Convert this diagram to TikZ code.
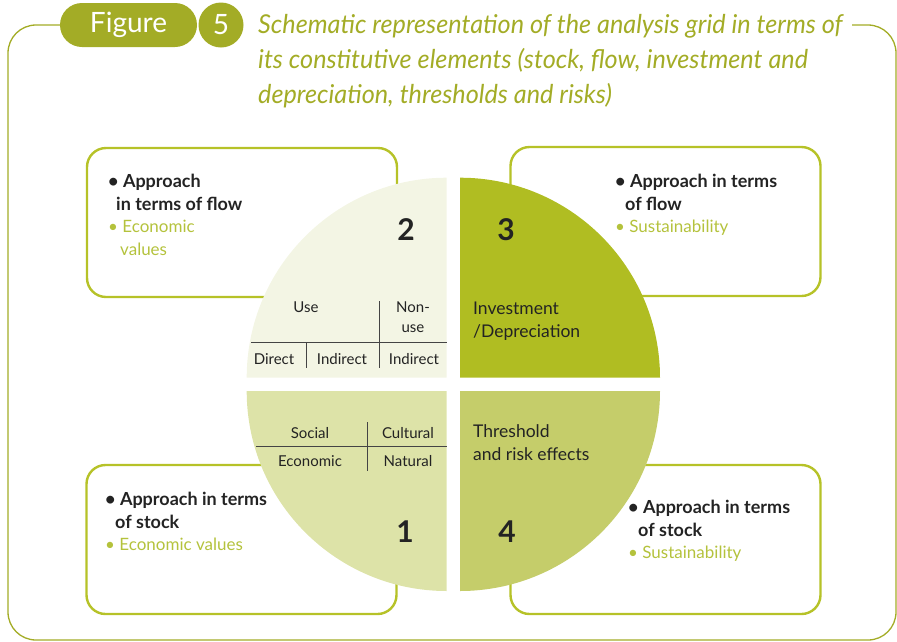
\documentclass[tikz,border=0pt]{standalone}
\usepackage{fontspec}
\setmainfont{Lato}
\newfontfamily\capfont[FakeStretch=0.97]{Lato}
\usetikzlibrary{positioning}

\definecolor{figolive}{RGB}{163,172,38}
\definecolor{boxgreen}{RGB}{182,194,40}
\definecolor{lightgr}{RGB}{180,194,60}
\definecolor{qone}{RGB}{221,227,168}
\definecolor{qtwo}{RGB}{243,245,228}
\definecolor{qthree}{RGB}{176,189,34}
\definecolor{qfour}{RGB}{197,205,106}
\definecolor{darktxt}{RGB}{35,35,35}

\newcommand{\boldln}[1]{{\bfseries\fontsize{18}{22.5}\selectfont #1}}

\begin{document}
\begin{tikzpicture}[x=1pt, y=-1pt,
		frameline/.style={draw=figolive, line width=1.3pt, rounded corners=28pt},
		tagpill/.style={fill=figolive, text=white, rounded corners=22pt, minimum width=137pt, minimum height=44pt, font=\fontsize{28}{30}\selectfont},
		tagdisc/.style={circle, fill=figolive, text=white, minimum size=45pt, inner sep=0pt, font=\fontsize{28}{30}\selectfont},
		captxt/.style={anchor=base west, inner sep=0pt, text=figolive, font=\capfont\itshape\fontsize{26}{30}\selectfont},
		infobox/.style={draw=boxgreen, line width=2.4pt, rounded corners=19pt, minimum width=310pt, minimum height=149pt},
		boxtxt/.style={anchor=north west, inner sep=0pt, align=left, text=darktxt, font=\fontsize{17}{22.5}\selectfont},
		qtxt/.style={anchor=north west, inner sep=0pt, align=left, text=darktxt, font=\fontsize{17.5}{23}\selectfont},
		numlbl/.style={anchor=base, inner sep=0pt, text=darktxt, font=\bfseries\fontsize{30}{32}\selectfont},
		celltxt/.style={anchor=base, inner sep=0pt, text=darktxt, font=\fontsize{15}{17}\selectfont},
		gridline/.style={draw=darktxt!85, line width=0.8pt}]
		\useasboundingbox (0,0) rectangle (897,641);
		
		% Outer frame and title
		\begin{scope}
			\clip (0,0) rectangle (897,641);
			\draw[frameline] (70,25) -- (8,25) -- (8,640) -- (896,640) -- (896,25) -- (852,25);
		\end{scope}
		\node[tagpill] (figtag) at (128.5,25) {Figure};
		\node[tagdisc] (fignum) at (221,25) {5};
		\node[captxt] (capa) at (258,33) {Schematic representation of the analysis grid in terms of};
		\node[captxt] (capb) at (258,68) {its constitutive elements (stock, flow, investment and};
		\node[captxt] (capc) at (258,103) {depreciation, thresholds and risks)};
		
		% Approach boxes
		\node[infobox] (flowecon) at (242,222.5) {};
		\node[infobox] (flowsust) at (665.5,221.5) {};
		\node[infobox] (stockecon) at (241.5,539.5) {};
		\node[infobox] (stocksust) at (665.5,539.5) {};
		
		% Quarter discs
		\fill[qtwo] (446.7,377.7) -- (246.7,377.7) arc[start angle=180, end angle=270, radius=200] -- cycle;
		\fill[qthree] (460,377.7) -- (460,177.7) arc[start angle=270, end angle=360, radius=200] -- cycle;
		\fill[qfour] (460,391) -- (660,391) arc[start angle=0, end angle=90, radius=200] -- cycle;
		\fill[qone] (446.7,391) -- (446.7,591) arc[start angle=90, end angle=180, radius=200] -- cycle;
		
		% Box texts
		\node[boxtxt] (flowecontxt) at (108,174) {\boldln{• Approach}\\\hspace*{8pt}\boldln{in terms of flow}\\{\color{lightgr}• Economic}\\\hspace*{12pt}{\color{lightgr}values}};
		\node[boxtxt] (flowsusttxt) at (615,174) {\boldln{• Approach in terms}\\\hspace*{10pt}\boldln{of flow}\\{\color{lightgr}• Sustainability}};
		\node[boxtxt] (stockecontxt) at (105,492) {\boldln{• Approach in terms}\\\hspace*{10pt}\boldln{of stock}\\{\color{lightgr}• Economic values}};
		\node[boxtxt] (stocksusttxt) at (628,500) {\boldln{• Approach in terms}\\\hspace*{10pt}\boldln{of stock}\\{\color{lightgr}• Sustainability}};
		
		% Numbers
		\node[numlbl] (ntwo) at (406,240) {2};
		\node[numlbl] (nthree) at (506,240) {3};
		\node[numlbl] (none) at (405,542) {1};
		\node[numlbl] (nfour) at (507,542) {4};
		
		% Quadrant labels
		\node[qtxt] (invest) at (473,301.5) {Investment\\/Depreciation};
		\node[qtxt] (thresh) at (473,424.5) {Threshold\\and risk effects};
		
		% Value grid (quadrant 2)
		\draw[gridline] (379,301) -- (379,368);
		\draw[gridline] (251,342) -- (446.7,342);
		\draw[gridline] (306,342) -- (306,368);
		\node[celltxt] (use) at (306,312) {Use};
		\node[celltxt] (nonuse) at (413,312) {Non-};
		\node[celltxt] (nonuseb) at (413,332) {use};
		\node[celltxt] (direct) at (274,364) {Direct};
		\node[celltxt] (indirect) at (342,364) {Indirect};
		\node[celltxt] (indirectb) at (414,364) {Indirect};
		
		% Capital grid (quadrant 1)
		\draw[gridline] (256,446) -- (446.7,446);
		\draw[gridline] (367,422) -- (367,471);
		\node[celltxt] (social) at (310,438) {Social};
		\node[celltxt] (cultural) at (408,438) {Cultural};
		\node[celltxt] (economic) at (310,466) {Economic};
		\node[celltxt] (natural) at (408,466) {Natural};
		
	\end{tikzpicture}
\end{document}
